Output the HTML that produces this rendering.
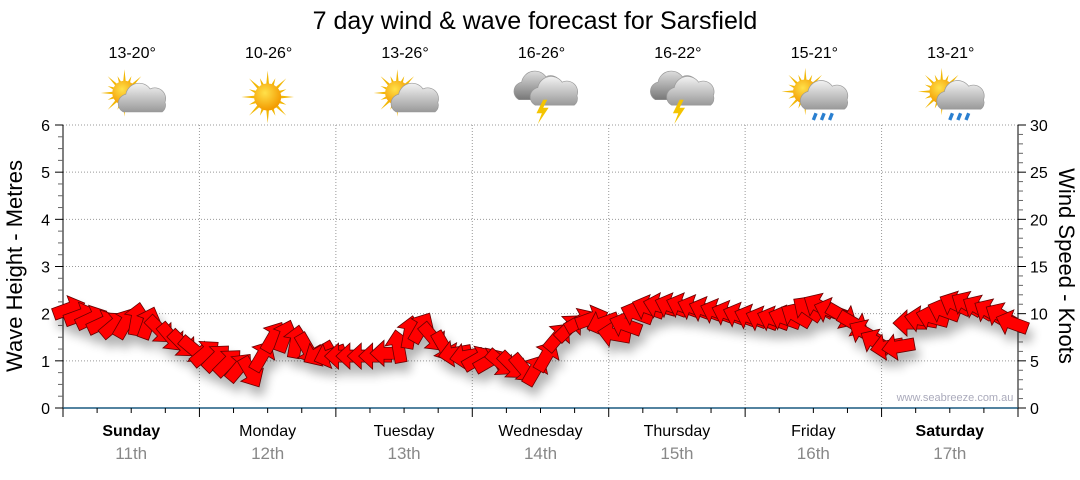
<!DOCTYPE html>
<html><head><meta charset="utf-8"><style>
body{margin:0;background:#fff;width:1080px;height:475px;overflow:hidden;font-family:"Liberation Sans",sans-serif}
svg text{font-family:"Liberation Sans",sans-serif}
</style></head><body>
<svg id="c" width="1080" height="475">
<defs>
<filter id="sh" x="-50%" y="-50%" width="200%" height="200%"><feGaussianBlur in="SourceAlpha" stdDeviation="5"/><feOffset dx="4" dy="9"/><feComponentTransfer><feFuncA type="linear" slope="0.3"/></feComponentTransfer><feMerge><feMergeNode/><feMergeNode in="SourceGraphic"/></feMerge></filter>
<radialGradient id="sun" cx="40%" cy="35%" r="65%"><stop offset="0" stop-color="#ffe14a"/><stop offset="1" stop-color="#f39a00"/></radialGradient>
<linearGradient id="cl" x1="0" y1="0" x2="0" y2="1"><stop offset="0" stop-color="#f2f2f2"/><stop offset="1" stop-color="#9a9a9a"/></linearGradient>
<linearGradient id="dcl" x1="0" y1="0" x2="0" y2="1"><stop offset="0" stop-color="#dedede"/><stop offset="1" stop-color="#777"/></linearGradient>
</defs>
<text x="535" y="29" font-size="25" text-anchor="middle" fill="#000">7 day wind &amp; wave forecast for Sarsfield</text>
<g id="grid"></g><g id="axes"></g><g id="icons"></g><g id="arrows" filter="url(#sh)"></g>
<text x="955" y="401" font-size="11" fill="#aab" text-anchor="middle">www.seabreeze.com.au</text>
<text transform="translate(22,266) rotate(-90)" font-size="22" text-anchor="middle">Wave Height - Metres</text>
<text transform="translate(1059,266) rotate(90)" font-size="22" text-anchor="middle">Wind Speed - Knots</text>
</svg>
<script>
const days=["Sunday","Monday","Tuesday","Wednesday","Thursday","Friday","Saturday"];
const dates=["11th","12th","13th","14th","15th","16th","17th"];
const temps=["13-20°","10-26°","13-26°","16-26°","16-22°","15-21°","13-21°"];
const weather=["partly","sunny","partly","storm","storm","rain","sunrain"];
const waveTicks=[0,1,2,3,4,5,6];
const windTicks=[0,5,10,15,20,25,30];
const windKnots=[10.5,9.8,9.5,9.0,8.8,9.0,9.4,9.0,8.3,7.5,6.8,6.2,
5.8,5.3,4.8,4.3,3.8,5.5,7.5,7.6,7.0,6.3,5.8,5.6,
5.5,5.5,5.5,5.5,5.8,6.5,8.0,8.5,7.5,6.5,5.8,5.5,
5.2,5.0,4.8,4.5,4.2,4.0,5.5,7.5,8.5,9.2,9.5,9.0,
7.8,8.8,10.0,10.6,10.8,10.8,10.8,10.6,10.4,10.2,10.0,9.8,
9.6,9.4,9.4,9.5,9.8,10.5,10.8,10.3,9.8,9.0,8.0,7.0,
6.5,6.5,9.0,9.4,9.6,10.3,11.0,11.0,10.6,10.2,9.8,9.0];
const windDir=[-20,-20,-25,-25,-40,-60,-80,-70,45,50,45,40,
-40,-45,-45,-50,60,-60,-60,-70,-80,60,150,160,
180,180,180,180,180,-100,-80,-60,50,60,170,170,
-30,-30,40,45,50,-60,-60,-50,-45,-30,-20,160,
190,200,200,200,195,200,200,200,200,200,200,200,
200,200,200,200,210,215,210,200,30,30,210,210,
170,170,180,190,195,200,205,210,210,210,210,200];
const NS="http://www.w3.org/2000/svg";
const X0=63,X1=1018,Y0=408,Y1=125;
const dayW=(X1-X0)/7;
const xT=h=>X0+h/168*(X1-X0);
const yWave=m=>Y0-m/6*(Y0-Y1);
const yWind=k=>Y0-k/30*(Y0-Y1);
function mk(tag,attrs,parent,txt){const e=document.createElementNS(NS,tag);for(const k in attrs)e.setAttribute(k,attrs[k]);if(txt!==undefined)e.textContent=txt;document.getElementById(parent).appendChild(e);return e;}
waveTicks.slice(1).forEach(m=>{const g=mk("line",{x1:X0,x2:X1,y1:yWave(m),y2:yWave(m),stroke:"#999","stroke-dasharray":"1,2"},"grid");

});
for(let d=1;d<7;d++){const g=mk("line",{x1:X0+d*dayW,x2:X0+d*dayW,y1:Y1,y2:Y0,stroke:"#999","stroke-dasharray":"1,2"},"grid");

}
mk("line",{x1:X0,x2:X0,y1:Y1,y2:Y0,stroke:"#000"},"axes");
mk("line",{x1:X1,x2:X1,y1:Y1,y2:Y0,stroke:"#000"},"axes");
mk("line",{x1:X0,x2:X1,y1:Y0,y2:Y0,stroke:"#1a5a80","stroke-width":1.5},"axes");
for(let i=0;i<=24;i++){const y=yWave(i/4);mk("line",{x1:X0-(i%4?5:8),x2:X0,y1:y,y2:y,stroke:i%4?"#666":"#000"},"axes");}
waveTicks.forEach(m=>{const t=mk("text",{x:50,y:yWave(m)+6,"font-size":16,"text-anchor":"end"},"axes",m);

});
for(let k=0;k<=30;k++){const y=yWind(k);mk("line",{x1:X1,x2:X1+(k%5?5:8),y1:y,y2:y,stroke:k%5?"#666":"#000"},"axes");}
windTicks.forEach(k=>{const t=mk("text",{x:1030,y:yWind(k)+6,"font-size":16},"axes",k);

});
for(let i=0;i<=28;i++){const x=X0+i*dayW/4;mk("line",{x1:x,x2:x,y1:Y0,y2:Y0+(i%4?5:9),stroke:"#000"},"axes");}
days.forEach((d,i)=>{const cx=X0+(i+0.5)*dayW;
const t=mk("text",{x:cx,y:436,"font-size":16,"text-anchor":"middle","font-weight":(i==0||i==6)?"bold":"normal"},"axes",d);


const t2=mk("text",{x:cx,y:459,"font-size":17,"text-anchor":"middle",fill:"#888"},"axes",dates[i]);


const t3=mk("text",{x:cx+1,y:58,"font-size":16,"text-anchor":"middle"},"icons",temps[i]);


drawIcon(weather[i],cx,97);});
function drawIcon(type,cx,cy){
 const g=mk("g",{transform:`translate(${cx},${cy}) scale(1.35)`},"icons");
 
 
 function add(tag,a){const e=document.createElementNS(NS,tag);for(const k in a)e.setAttribute(k,a[k]);g.appendChild(e);return e;}
 function sun(x,y,r){let p="";for(let i=0;i<16;i++){const a=i*Math.PI/8,R=(i%2?r*1.5:r*1.95);p+=`M${x+Math.cos(a-0.12)*r*0.9},${y+Math.sin(a-0.12)*r*0.9}L${x+Math.cos(a)*R},${y+Math.sin(a)*R}L${x+Math.cos(a+0.12)*r*0.9},${y+Math.sin(a+0.12)*r*0.9}Z`;}
  add("path",{d:p,fill:"#f2b705"});add("circle",{cx:x,cy:y,r:r,fill:"url(#sun)"});}
 function cloud(x,y,f){add("path",{d:`M${x-14},${y+8} a7 7 0 0 1 2,-13 a10 10 0 0 1 18,-4 a8 8 0 0 1 11,10 a6 6 0 0 1 -2,7 Z`,fill:f,stroke:"#999","stroke-width":0.5});}
 if(type=="sunny"){sun(0,0,10);}
 if(type=="partly"){sun(-5,-3,9);cloud(8,3,"url(#cl)");}
 if(type=="storm"){cloud(-2,-6,"url(#dcl)");cloud(10,-2,"url(#cl)");add("path",{d:"M2,2 L-3,12 L1,12 L-2,20 L6,8 L2,8 L5,2Z",fill:"#f4c400"});}
 if(type=="rain"||type=="sunrain"){sun(-6,-4,9);cloud(8,1,"url(#cl)");for(let i=0;i<3;i++)add("path",{d:`M${2+i*6},12 l-2,5`,stroke:"#2a7fd0","stroke-width":2.5});}
}
windKnots.forEach((k,i)=>{const x=xT(i*2+1),y=yWind(k);
 const a=mk("polygon",{points:"-16,-6 3,-6 3,-13 17,0 3,13 3,6 -16,6",fill:"#ff0000",stroke:"#600","stroke-width":0.8,transform:`translate(${x},${y}) rotate(${windDir[i]})`},"arrows");
 
 });
</script>
</body></html>
